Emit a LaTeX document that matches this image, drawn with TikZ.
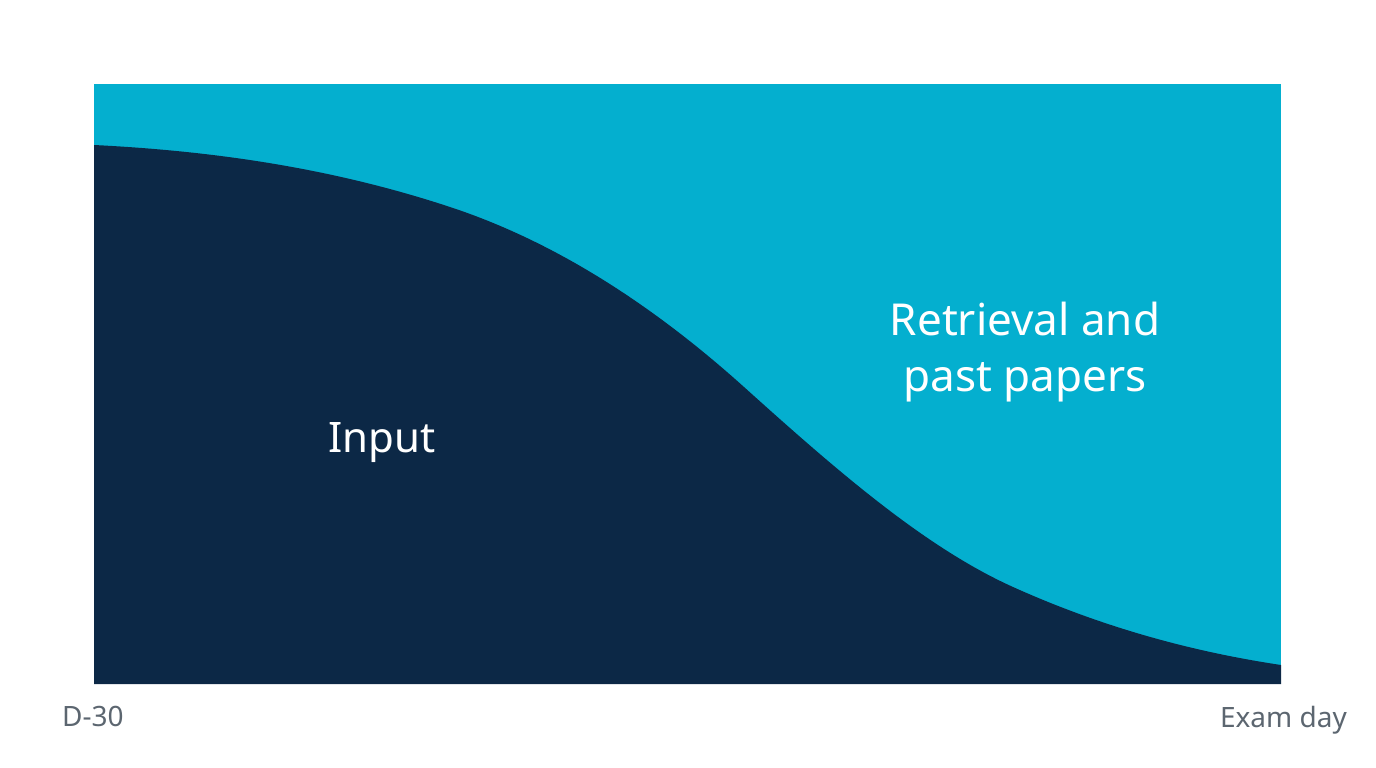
\documentclass[tikz,border=0pt]{standalone}
\usepackage{fontspec}
\setmainfont{Noto Sans}
\usepackage{tikz}
\usetikzlibrary{positioning}
\definecolor{lightband}{HTML}{04AFCF}
\definecolor{darkband}{HTML}{0C2846}
\definecolor{axisgray}{HTML}{5C6670}
\begin{document}
\begin{tikzpicture}[x=1pt, y=-1pt,
node distance={10pt}, inner sep=0pt,
bandlabel/.style = {text=white, font=\fontsize{44}{56}\selectfont, align=center},
timelabel/.style = {text=axisgray, font=\fontsize{28}{32}\selectfont}]
\useasboundingbox (0,0) rectangle (1376,768);
\coordinate (tl) at (94,84);
\coordinate (br) at (1281,684);
\coordinate (bl) at (94,684);
% curve points
\coordinate (p0) at (94,145);
\coordinate (p1) at (450,207);
\coordinate (p2) at (744,387);
\coordinate (p3) at (1013,587);
\coordinate (p4) at (1281,665);
\fill[lightband] (tl) rectangle (br);
\fill[darkband] (p0) .. controls (212.7,150.9) and (331.3,167.8) .. (p1)
  .. controls (548,239.3) and (646,298.8) .. (p2)
  .. controls (833.7,467.7) and (923.3,546.6) .. (p3)
  .. controls (1102.3,627.2) and (1191.7,651.6) .. (p4)
  -- (br) -- (bl) -- cycle;
\node[bandlabel, font=\fontsize{42}{50}\selectfont] (input) at (382,443) {Input};
\node[bandlabel] (retr) at (1025,352) {Retrieval and\\past papers};
\node[timelabel, anchor=north west] (start) at (62,706) {D-30};
\node[timelabel, anchor=north east] (end) at (1347,706) {Exam day};
\end{tikzpicture}
\end{document}
